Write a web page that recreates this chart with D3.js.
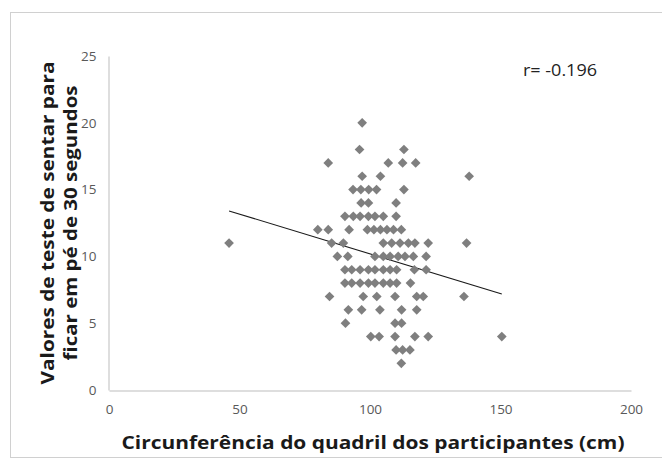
<!DOCTYPE html>
<html>
<head>
<meta charset="utf-8">
<script src="https://cdn.jsdelivr.net/npm/d3@7"></script>
<style>
  html, body { margin: 0; padding: 0; background: #fff; }
  svg { display: block; }
</style>
</head>
<body>
<script>
// Hip circumference (cm) against 30-second sit-to-stand score, one entry per participant
const hipCm = [
  97,
  96, 113,
  84, 107, 112.5, 117.5,
  97, 104, 138,
  93.5, 96.5, 99.5, 102.5, 113,
  96.6, 99.4, 110,
  90.4, 93.6, 96.2, 99.4, 101.9, 105.1, 110,
  80, 84, 92, 99, 101.5, 104, 106.5, 109, 112,
  46, 85.3, 89.8, 105.1, 108.3, 111.5, 114.7, 117.2, 122.3, 137,
  87.5, 91.5, 101.9, 105.1, 107.7, 110.8, 113.4, 116.6, 121.5,
  90.4, 93, 96.2, 99.4, 101.9, 105.1, 107.7, 110.2, 117, 121.5,
  90.4, 93, 96.2, 99.4, 101.9, 105.1, 107.7, 110.2, 115.5,
  84.5, 97.4, 102.6, 109.6, 117.9, 120.4, 136,
  91.7, 96.8, 103.8, 112.1, 117.9,
  90.6, 109.6, 112.1,
  100.3, 103.5, 109.6, 117.2, 122.3, 150.5,
  110, 112.5, 115.3,
  112
];
const sitStand = [
  20,
  18, 18,
  17, 17, 17, 17,
  16, 16, 16,
  15, 15, 15, 15, 15,
  14, 14, 14,
  13, 13, 13, 13, 13, 13, 13,
  12, 12, 12, 12, 12, 12, 12, 12, 12,
  11, 11, 11, 11, 11, 11, 11, 11, 11, 11,
  10, 10, 10, 10, 10, 10, 10, 10, 10,
  9, 9, 9, 9, 9, 9, 9, 9, 9, 9,
  8, 8, 8, 8, 8, 8, 8, 8, 8,
  7, 7, 7, 7, 7, 7, 7,
  6, 6, 6, 6, 6,
  5, 5, 5,
  4, 4, 4, 4, 4, 4,
  3, 3, 3,
  2
];

// Axis ticks
const xTicks = [0, 50, 100, 150, 200];
const yTicks = [0, 5, 10, 15, 20, 25];

// Linear trend line (intercept, slope) and correlation label
const trendIntercept = 16.14;
const trendSlope = -0.0595;
const rLabel = "r= -0.196";

const W = 662, H = 460;
const svg = d3.select("body").append("svg").attr("width", W).attr("height", H);

// chart frame
svg.append("rect")
  .attr("x", 10.5).attr("y", 12.5)
  .attr("width", 660).attr("height", 445)
  .attr("fill", "#fff").attr("stroke", "#d0d0d0").attr("stroke-width", 1);

const x = d3.scaleLinear().domain([0, 200]).range([109, 631]);
const y = d3.scaleLinear().domain([0, 25]).range([390, 56]);

const tickFont = "'Open Sans', 'DejaVu Sans', sans-serif";

// x axis
const xAxis = svg.append("g")
  .attr("transform", `translate(0,${y(0) + 0.5})`)
  .call(d3.axisBottom(x).tickValues(xTicks).tickSize(0).tickPadding(14));
xAxis.select(".domain").attr("stroke", "#bdbdbd");
xAxis.selectAll("text").attr("fill", "#595959")
  .style("font-family", tickFont).style("font-size", "13.5px");

// y axis
const yAxis = svg.append("g")
  .attr("transform", `translate(${x(0) - 0.5},0)`)
  .call(d3.axisLeft(y).tickValues(yTicks).tickSize(0).tickPadding(12));
yAxis.select(".domain").attr("stroke", "#bdbdbd");
yAxis.selectAll("text").attr("fill", "#595959")
  .style("font-family", tickFont).style("font-size", "13.5px");

// trend line across the observed x range
const xMin = d3.min(hipCm), xMax = d3.max(hipCm);
svg.append("line")
  .attr("x1", x(xMin)).attr("y1", y(trendIntercept + trendSlope * xMin))
  .attr("x2", x(xMax)).attr("y2", y(trendIntercept + trendSlope * xMax))
  .attr("stroke", "#1a1a1a").attr("stroke-width", 1.1);

// participants
const diamond = d3.symbol().type(d3.symbolDiamond2).size(60);
svg.append("g").selectAll("path")
  .data(hipCm.map((v, i) => [v, sitStand[i]]))
  .join("path")
  .attr("d", diamond)
  .attr("transform", d => `translate(${x(d[0])},${y(d[1])})`)
  .attr("fill", "#7f7f7f");

// correlation coefficient
svg.append("text")
  .attr("x", 523).attr("y", 76)
  .attr("textLength", 74).attr("lengthAdjust", "spacingAndGlyphs")
  .attr("fill", "#222")
  .style("font-family", tickFont).style("font-size", "16px")
  .text(rLabel);

// axis titles
const titleFont = "'Open Sans', 'DejaVu Sans', sans-serif";
svg.append("text")
  .attr("x", 373).attr("y", 449)
  .attr("text-anchor", "middle")
  .attr("textLength", 503).attr("lengthAdjust", "spacingAndGlyphs")
  .attr("fill", "#1a1a1a")
  .style("font-family", titleFont).style("font-size", "17px").style("font-weight", "bold")
  .text("Circunferência do quadril dos participantes (cm)");

const yTitle = svg.append("g").attr("transform", "translate(0,223) rotate(-90)");
yTitle.append("text")
  .attr("x", 0).attr("y", 54)
  .attr("text-anchor", "middle")
  .attr("textLength", 323).attr("lengthAdjust", "spacingAndGlyphs")
  .attr("fill", "#1a1a1a")
  .style("font-family", titleFont).style("font-size", "17px").style("font-weight", "bold")
  .text("Valores de teste de sentar para");
yTitle.append("text")
  .attr("x", 0).attr("y", 77)
  .attr("text-anchor", "middle")
  .attr("textLength", 275).attr("lengthAdjust", "spacingAndGlyphs")
  .attr("fill", "#1a1a1a")
  .style("font-family", titleFont).style("font-size", "17px").style("font-weight", "bold")
  .text("ficar em pé de 30 segundos");
</script>
</body>
</html>
